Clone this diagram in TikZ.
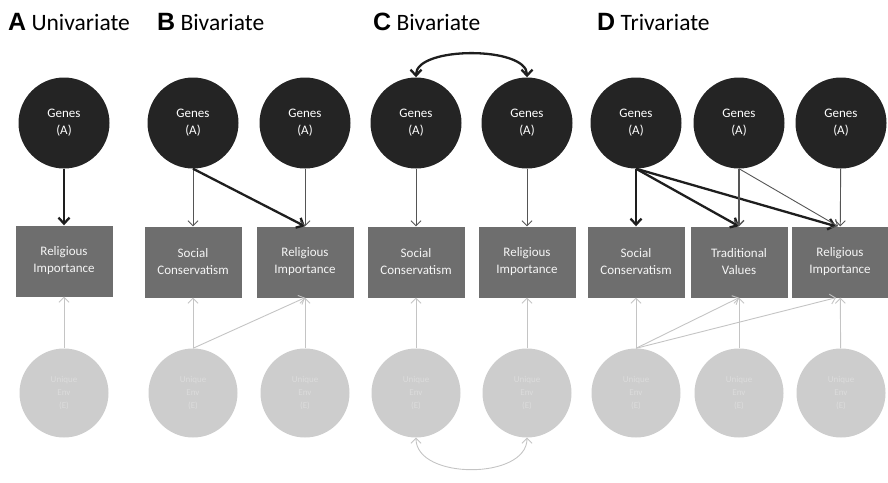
\documentclass[tikz,border=0pt]{standalone}
\usepackage{fontspec}
\setmainfont{Carlito}
\newfontfamily\letterfont{Liberation Sans}
\usepackage{xcolor}
\usepackage{tikz}
\usetikzlibrary{positioning,%
  arrows.meta%
}
\definecolor{genesfill}{HTML}{242424}
\definecolor{boxfill}{HTML}{6E6E6E}
\definecolor{envfill}{HTML}{CDCDCD}
\definecolor{envtext}{HTML}{DCDCDC}
\definecolor{darkline}{HTML}{1E1E1E}
\definecolor{midline}{HTML}{555555}
\definecolor{lightline}{HTML}{C4C4C4}

\begin{document}
\begin{tikzpicture}
                    [
                        x=1pt,y=-1pt,
                        genes/.style={circle,fill=genesfill,text=white,minimum size=91pt,inner sep=0pt,align=center,font=\fontsize{13}{17}\selectfont},
                        measure/.style={rectangle,fill=boxfill,text=white!92!gray,minimum width=97pt,minimum height=71pt,inner sep=0pt,align=center,font=\fontsize{13}{17}\selectfont},
                        env/.style={circle,fill=envfill,text=envtext,minimum size=89pt,inner sep=0pt,align=center,font=\fontsize{9}{13}\selectfont},
                        paneltitle/.style={anchor=base west,inner sep=0pt,font=\fontsize{23.5}{28}\selectfont},
                        strong/.style={line width=2.3pt,draw=darkline,-{Straight Barb[length=6pt,width=11pt]}},
                        weak/.style={line width=0.9pt,draw=midline,-{Straight Barb[length=5pt,width=10pt]}},
                        faint/.style={line width=0.9pt,draw=lightline,-{Straight Barb[length=5pt,width=10pt]}}
                    ]
                    
                    % Rahmen
                    \useasboundingbox (0,0) rectangle (888,482);
                    
                    % Titel
                    \node[paneltitle] (titleA) at (8,30) {{\letterfont\bfseries\fontsize{25}{28}\selectfont A} Univariate};
                    \node[paneltitle] (titleB) at (157,30) {{\letterfont\bfseries\fontsize{25}{28}\selectfont B} Bivariate};
                    \node[paneltitle] (titleC) at (373,30) {{\letterfont\bfseries\fontsize{25}{28}\selectfont C} Bivariate};
                    \node[paneltitle] (titleD) at (597,30) {{\letterfont\bfseries\fontsize{25}{28}\selectfont D} Trivariate};
                    
                    % Gene und Umwelt
                    \foreach \n/\x in {A/64,B1/193,B2/305,C1/416,C2/527,D1/636,D2/739,D3/841}
                    {
                        \node[genes] (genes\n) at (\x,123) {Genes\\(A)};
                        \node[env] (env\n) at (\x,393) {Unique\\Env\\(E)};
                    }
                    
                    % Merkmale
                    \node[measure] (boxA) at (64,261) {Religious\\Importance};
                    \node[measure] (boxB1) at (193,262) {Social\\Conservatism};
                    \node[measure] (boxB2) at (305,262) {Religious\\Importance};
                    \node[measure] (boxC1) at (416,262) {Social\\Conservatism};
                    \node[measure] (boxC2) at (527,262) {Religious\\Importance};
                    \node[measure] (boxD1) at (636,262) {Social\\Conservatism};
                    \node[measure] (boxD2) at (739,262) {Traditional\\Values};
                    \node[measure] (boxD3) at (840,262) {Religious\\Importance};
                    
                    % Pfade Gene
                    \draw[strong] (genesA) -- (boxA);
                    \draw[weak] (genesB1) -- (boxB1);
                    \draw[strong] (genesB1.south) -- (boxB2.north);
                    \draw[weak] (genesB2) -- (boxB2);
                    \draw[weak] (genesC1) -- (boxC1);
                    \draw[weak] (genesC2) -- (boxC2);
                    \draw[strong,{Straight Barb[length=6pt,width=11pt]}-{Straight Barb[length=6pt,width=11pt]}] (genesC1.north) .. controls (416,46) and (527,46) .. (genesC2.north);
                    \draw[strong] (genesD1) -- (boxD1);
                    \draw[strong] (genesD1.south) -- (boxD2.north);
                    \draw[strong] (genesD1.south) -- ([xshift=-4pt]boxD3.north);
                    \draw[weak,line width=1.3pt] (genesD2) -- (boxD2);
                    \draw[weak] (genesD2.south) -- ([xshift=-2pt]boxD3.north);
                    \draw[weak] (genesD3) -- (boxD3);
                    
                    % Pfade Umwelt
                    \draw[faint] (envA) -- (boxA);
                    \draw[faint] (envB1) -- (boxB1);
                    \draw[faint] (envB1.north) -- (boxB2.south);
                    \draw[faint] (envB2) -- (boxB2);
                    \draw[faint] (envC1) -- (boxC1);
                    \draw[faint] (envC2) -- (boxC2);
                    \draw[faint,{Straight Barb[length=5pt,width=10pt]}-{Straight Barb[length=5pt,width=10pt]}] (envC1.south) .. controls (416,480) and (527,480) .. (envC2.south);
                    \draw[faint] (envD1) -- (boxD1);
                    \draw[faint] (envD1.north) -- (boxD2.south);
                    \draw[faint] (envD1.north) -- ([xshift=-4pt]boxD3.south);
                    \draw[faint] (envD2) -- (boxD2);
                    \draw[faint] (envD3) -- (boxD3);
                \end{tikzpicture}
\end{document}
